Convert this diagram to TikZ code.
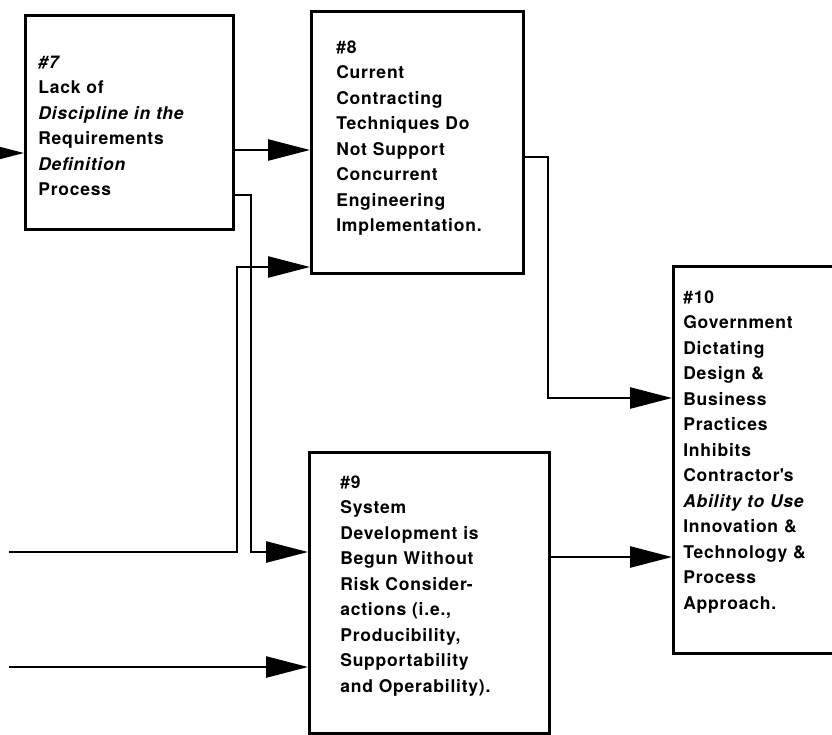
\documentclass[tikz,border=0pt]{standalone}
\usepackage{fontspec}
\setmainfont{TeX Gyre Heros}[LetterSpace=4.5]
\usetikzlibrary{arrows.meta}
\begin{document}
\begin{tikzpicture}[x=1pt, y=-1pt, line width=2.6pt, >={Triangle[length=42pt,width=21pt]},
    box/.style = {draw, anchor=north west, inner sep=0pt},
    txt/.style = {anchor=base west, inner sep=0pt, text width=210pt, align=left,
      font=\fontsize{17.5}{25.5}\selectfont\bfseries}]
    \clip (0,0) rectangle (832,734);
    \node[box, minimum width=208pt, minimum height=214pt] (b7) at (24,14) {};
    \node[box, minimum width=212pt, minimum height=262pt] (b8) at (310,10) {};
    \node[box, minimum width=240pt, minimum height=281pt] (b9) at (308,451) {};
    \node[box, minimum width=160pt, minimum height=387pt] (b10) at (672,265) {};
    \node[txt] (t7) at (37,68) {\textit{\#7}\\Lack of\\\textit{Discipline in the}\\Requirements\\\textit{Definition}\\Process};
    \node[txt] (t8) at (335,53) {\#8\\Current\\Contracting\\Techniques Do\\Not Support\\Concurrent\\Engineering\\Implementation.};
    \node[txt] (t9) at (339,488) {\#9\\System\\Development is\\Begun Without\\Risk Consider-\\actions (i.e.,\\Producibility,\\Supportability\\and Operability).};
    \node[txt] (t10) at (682,303) {\#10\\Government\\Dictating\\Design \&\\Business\\Practices\\Inhibits\\Contractor\textquotesingle s\\\textit{Ability to Use}\\Innovation \&\\Technology \&\\Process\\Approach.};
    % bends and loose ends
    \coordinate (in7) at (-30,153);
    \coordinate (in9a) at (9,552);
    \coordinate (in9b) at (9,667);
    \coordinate (r1) at (0,150);
    \coordinate (r2) at (251,195);
    \coordinate (r3) at (237,267);
    \coordinate (r4) at (548,157);
    \coordinate (r5) at (0,398);
    \coordinate (r6) at (0,557);
    \draw[->] (in7) -- (in7 -| b7.west);
    \draw[->] (b7.east |- r1) -- (b8.west |- r1);
    \draw[->] (b7.east |- r2) -- (r2) |- (b9.west |- in9a);
    \draw[->] (in9a) -| (r3) -- (b8.west |- r3);
    \draw[->] (in9b) -- (in9b -| b9.west);
    \draw[->] (b8.east |- r4) -- (r4) |- (b10.west |- r5);
    \draw[->] (b9.east |- r6) -- (b10.west |- r6);
\end{tikzpicture}
\end{document}
